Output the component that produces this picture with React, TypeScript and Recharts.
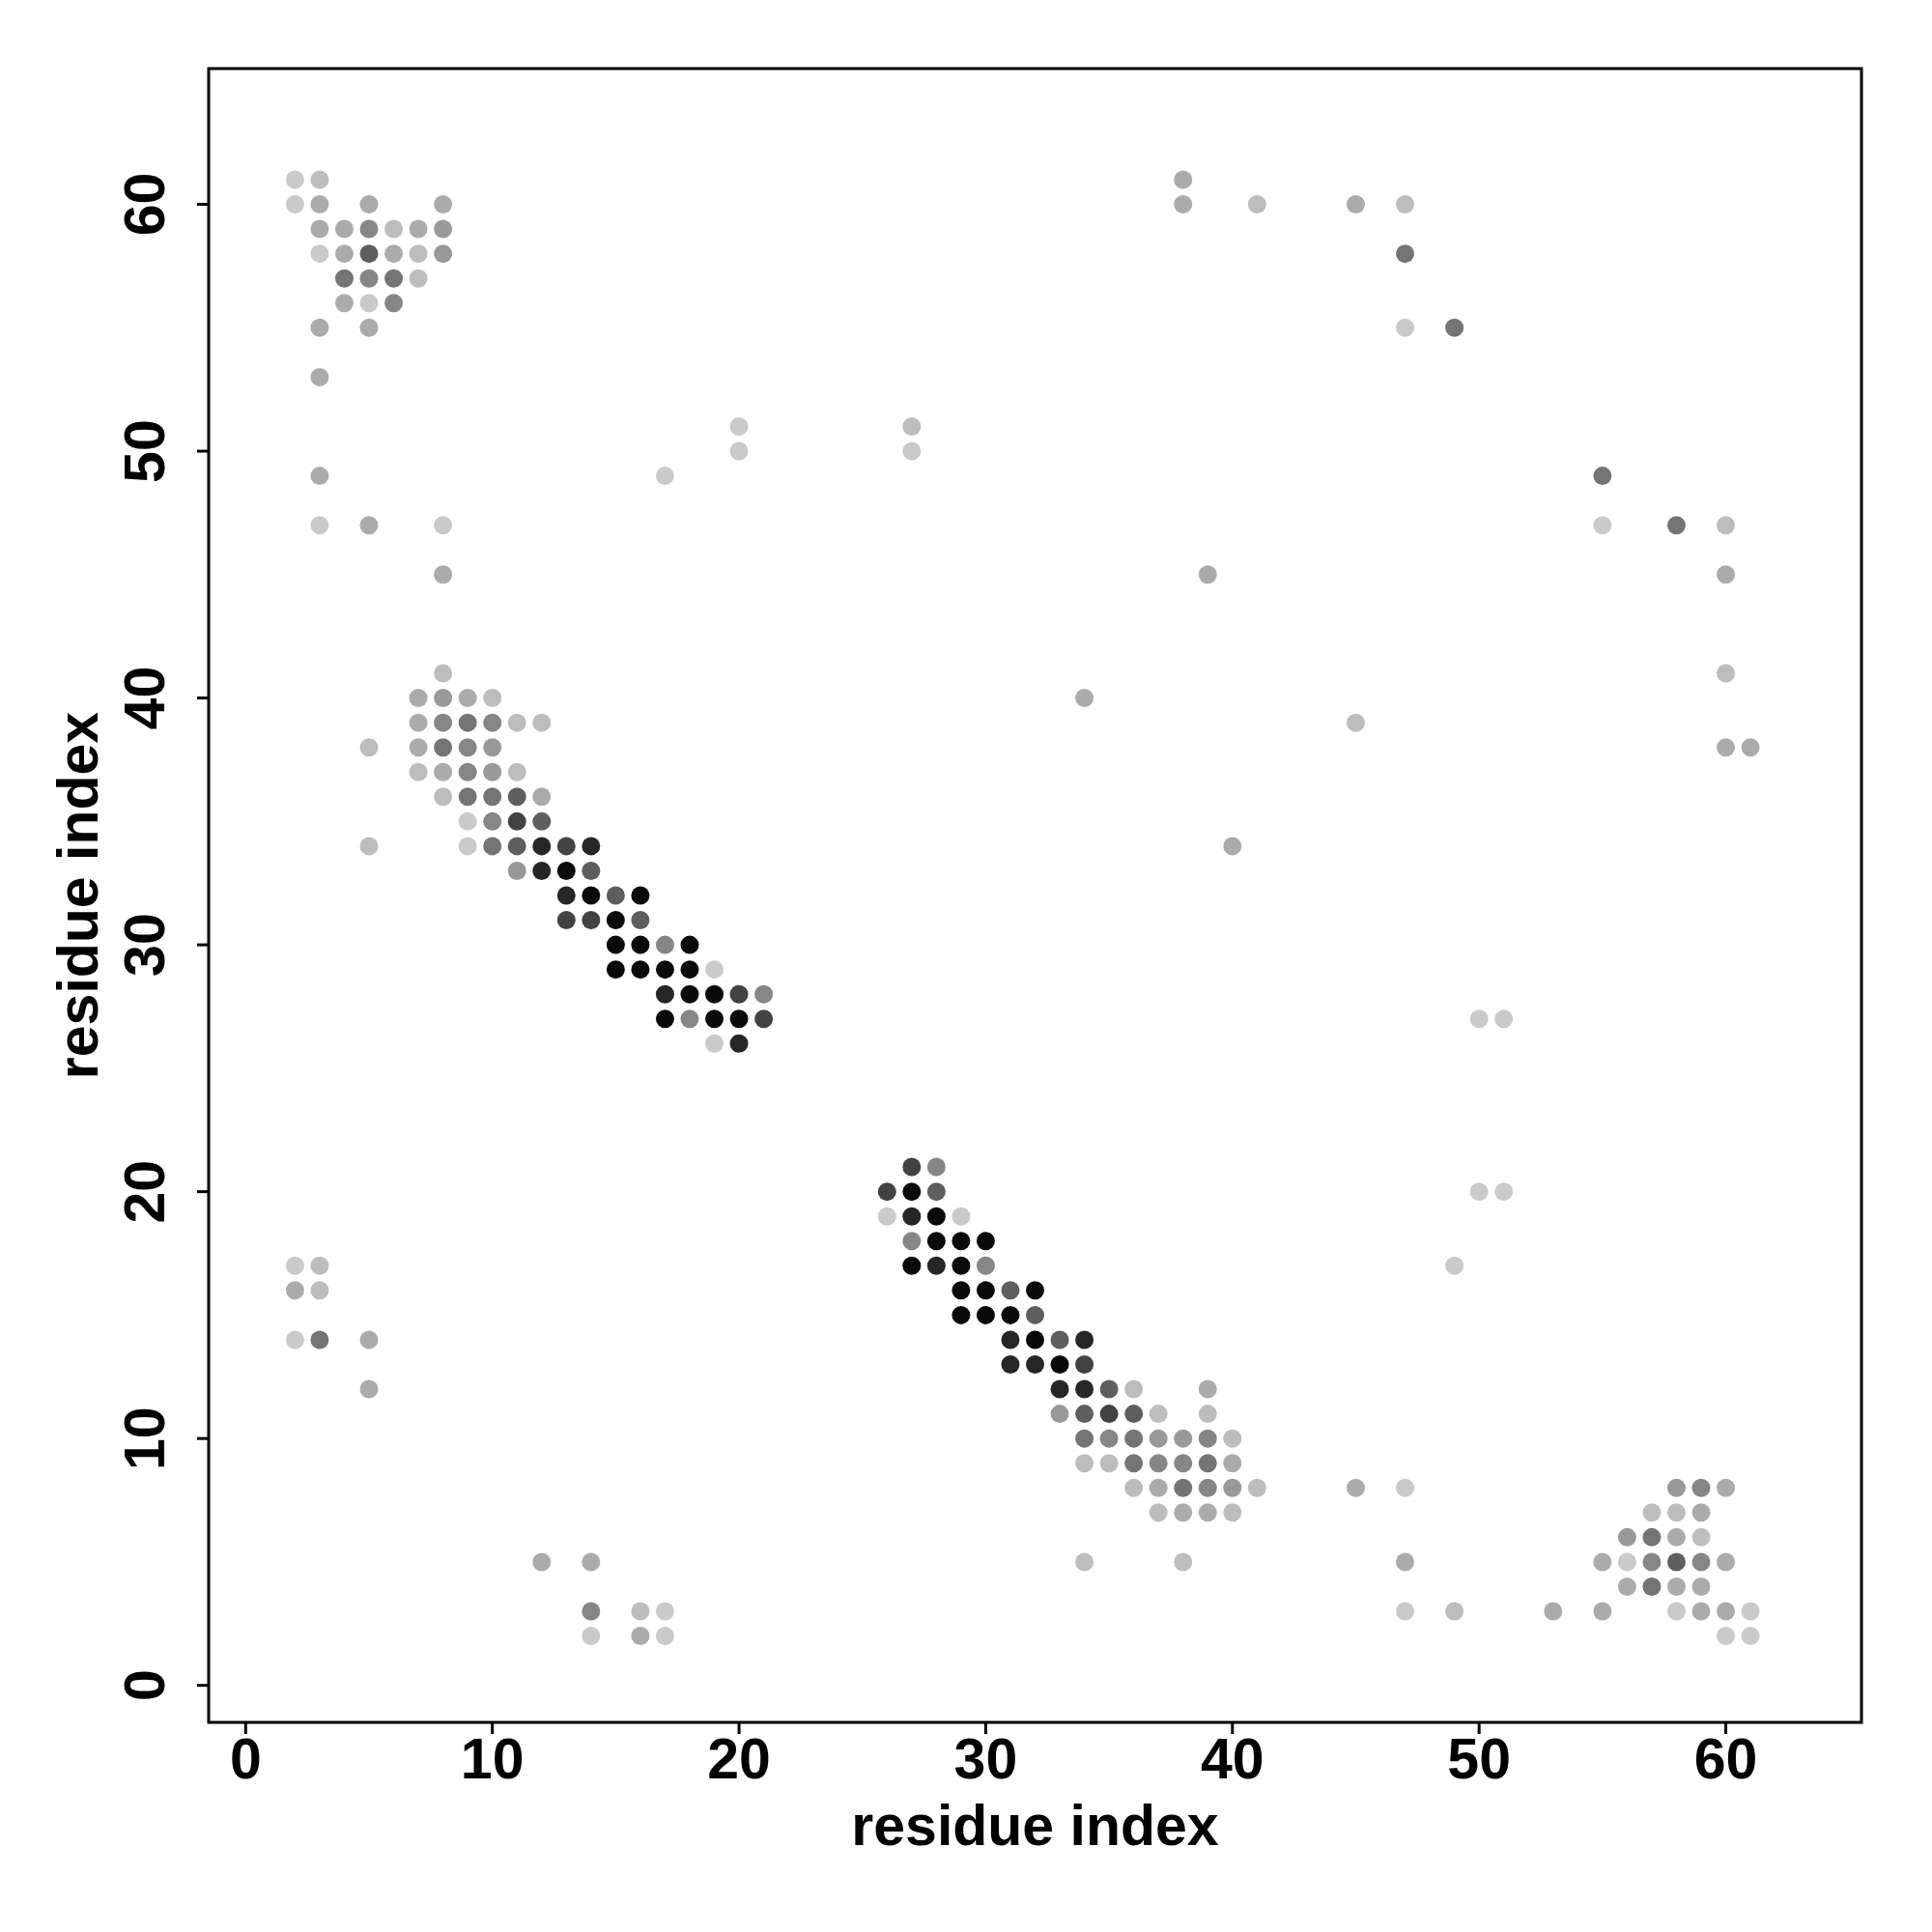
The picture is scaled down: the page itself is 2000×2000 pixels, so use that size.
import React from 'react'
import {
  ScatterChart,
  Scatter,
  XAxis,
  YAxis,
  ReferenceArea,
  Label,
} from 'recharts'

// contact map, points grouped by shade (darkest first)
const level1 = [
  [13, 33], [14, 32], [16, 32], [15, 31], [15, 30], [16, 30], [18, 30],
  [15, 29], [16, 29], [17, 29], [18, 29], [18, 28], [19, 28], [17, 27], [19, 27], [20, 27],
  [27, 20], [28, 19], [28, 18], [29, 18], [30, 18], [27, 17], [29, 17],
  [29, 16], [30, 16], [32, 16], [29, 15], [30, 15], [31, 15], [32, 14], [33, 13],
]
const level2 = [
  [12, 34], [14, 34], [12, 33], [13, 32], [17, 28], [20, 26],
  [27, 19], [28, 17], [31, 14], [34, 14], [31, 13], [32, 13], [33, 12], [34, 12],
]
const level3 = [
  [11, 35], [13, 34], [13, 31], [14, 31], [20, 28], [21, 27],
  [27, 21], [26, 20], [34, 13], [35, 11],
]
const level4 = [
  [5, 58], [11, 36], [12, 35], [11, 34], [14, 33], [15, 32], [16, 31],
  [28, 20], [31, 16], [32, 15], [33, 14], [35, 12], [34, 11], [36, 11], [58, 5],
]
const level5 = [
  [4, 57], [6, 57], [9, 39], [8, 38], [9, 36], [10, 36], [10, 34],
  [34, 10], [36, 10], [36, 9], [39, 9], [38, 8], [3, 14],
  [47, 58], [49, 55], [55, 49], [58, 47], [57, 6], [57, 4],
]
const level6 = [
  [5, 59], [5, 57], [6, 56], [8, 39], [10, 39], [9, 38], [9, 37], [10, 35],
  [17, 30], [21, 28], [18, 27], [28, 21], [27, 18], [30, 17],
  [35, 10], [39, 10], [37, 9], [38, 9], [39, 8], [14, 3], [59, 8], [57, 5], [59, 5],
]
const level7 = [
  [8, 59], [8, 58], [8, 40], [10, 38], [10, 37], [11, 33],
  [33, 11], [37, 10], [38, 10], [40, 8], [58, 8], [56, 6],
]
const level8 = [
  [3, 60], [5, 60], [8, 60], [3, 59], [4, 59], [7, 59], [4, 58], [6, 58], [4, 56],
  [3, 55], [5, 55], [3, 53], [3, 49], [5, 47], [8, 45],
  [7, 40], [9, 40], [7, 39], [7, 38], [8, 37], [12, 36],
  [39, 12], [40, 9], [37, 8], [38, 7], [39, 7],
  [2, 16], [5, 14], [5, 12], [12, 5], [14, 5], [16, 2],
  [45, 8], [47, 5], [53, 3], [55, 3],
  [60, 8], [59, 7], [58, 6], [55, 5], [60, 5], [56, 4], [58, 4], [59, 4], [59, 3], [60, 3],
  [38, 61], [38, 60], [45, 60], [60, 45], [39, 45], [34, 40], [60, 38], [61, 38], [40, 34],
]
const level9 = [
  [3, 61], [6, 59], [7, 58], [7, 57], [5, 38], [5, 34], [27, 51],
  [8, 41], [10, 40], [11, 39], [12, 39], [7, 37], [11, 37], [8, 36],
  [36, 12], [37, 11], [39, 11], [40, 10], [34, 9], [35, 9], [36, 8], [41, 8], [37, 7], [40, 7],
  [3, 17], [3, 16], [16, 3], [34, 5], [38, 5], [49, 3],
  [57, 7], [58, 7], [59, 6],
  [41, 60], [47, 60], [60, 47], [45, 39], [60, 41],
]
const level10 = [
  [2, 61], [2, 60], [3, 58], [5, 56], [3, 47], [8, 47],
  [17, 49], [20, 51], [20, 50], [27, 50],
  [9, 35], [9, 34], [19, 29], [19, 26], [26, 19], [29, 19],
  [2, 17], [2, 14], [14, 2], [17, 3], [17, 2],
  [47, 8], [47, 3], [56, 5], [58, 3], [61, 3], [60, 2], [61, 2],
  [47, 55], [55, 47], [50, 27], [51, 27], [50, 20], [51, 20], [49, 17],
]

const levels = [level1, level2, level3, level4, level5, level6, level7, level8, level9, level10]
const shades = ['#0a0a0a', '#262626', '#424242', '#5e5e5e', '#747474', '#868686', '#999999', '#ababab', '#bdbdbd', '#cacaca']

const axisTicks = [0, 10, 20, 30, 40, 50, 60]
const domain: [number, number] = [-1.5, 65.5]

const font = {
  fontFamily: '"Liberation Sans", Arial, Helvetica, sans-serif',
  fontWeight: 'bold' as const,
  fontSize: 59,
}

const Dot = (props: any) => <circle cx={props.cx} cy={props.cy} r={9.5} fill={props.fill} />

const XTick = (props: any) => (
  <text x={props.x} y={props.y + 44} textAnchor="middle" fill="#000" {...font}>
    {props.payload.value}
  </text>
)

const YTick = (props: any) => {
  const bx = props.x - 32
  return (
    <text x={bx} y={props.y} textAnchor="middle" fill="#000" transform={`rotate(-90, ${bx}, ${props.y})`} {...font}>
      {props.payload.value}
    </text>
  )
}

function App() {
  return (
    <div style={{ position: 'absolute', left: 0, top: 0, background: '#fff' }}>
      <ScatterChart width={2000} height={2000} margin={{ top: 71, right: 73, left: 116, bottom: 117 }}>
        <XAxis
          type="number"
          dataKey="x"
          domain={domain}
          ticks={axisTicks}
          allowDataOverflow
          axisLine={false}
          tickLine={{ stroke: '#000', strokeWidth: 3 }}
          tickSize={12}
          height={100}
          tick={<XTick />}
        >
          <Label
            content={(p: any) => {
              const vb = p.viewBox
              return (
                <text x={vb.x + vb.width / 2} y={vb.y + 127} textAnchor="middle" fill="#000" {...font}>
                  residue index
                </text>
              )
            }}
          />
        </XAxis>
        <YAxis
          type="number"
          dataKey="y"
          domain={domain}
          ticks={axisTicks}
          allowDataOverflow
          axisLine={false}
          tickLine={{ stroke: '#000', strokeWidth: 3 }}
          tickSize={12}
          width={100}
          tick={<YTick />}
        >
          <Label
            content={(p: any) => {
              const vb = p.viewBox
              const bx = vb.x + vb.width - 115
              const cy = vb.y + vb.height / 2
              return (
                <text x={bx} y={cy} textAnchor="middle" fill="#000" transform={`rotate(-90, ${bx}, ${cy})`} {...font}>
                  residue index
                </text>
              )
            }}
          />
        </YAxis>
        {levels.map((pts, i) => (
          <Scatter
            key={i}
            data={pts.map(([x, y]) => ({ x, y }))}
            fill={shades[i]}
            shape={Dot}
            isAnimationActive={false}
          />
        ))}
        <ReferenceArea
          x1={domain[0]}
          x2={domain[1]}
          y1={domain[0]}
          y2={domain[1]}
          fill="none"
          stroke="#000"
          strokeWidth={3}
          ifOverflow="visible"
        />
      </ScatterChart>
    </div>
  )
}

export default App
